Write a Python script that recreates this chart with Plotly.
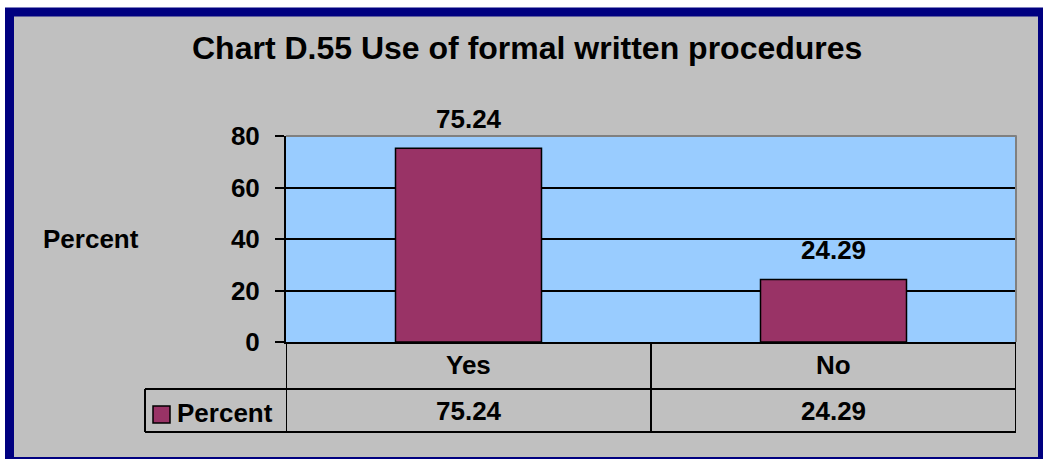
import plotly.graph_objects as go

# ---- data ----
categories = ["Yes", "No"]
percent_values = [75.24, 24.29]
series_name = "Percent"
title_text = "Chart D.55 Use of formal written procedures"
y_title = "Percent"
y_ticks = [0, 20, 40, 60, 80]

# ---- style ----
FONT = "Arial, 'Liberation Sans', sans-serif"
BAR = "#993366"
PLOT_BG = "#99CCFF"
PAPER = "#C0C0C0"
NAVY = "#000080"
FS = 26

W_FIG, H_FIG = 1043, 459
L, R, T, B = 286, 27, 136, 117
PW = W_FIG - L - R
PH = H_FIG - T - B


def px_x(px):
    return (px - L) / PW


def px_y(py):
    return (T + PH - py) / PH


fig = go.Figure()
fig.add_trace(go.Bar(
    x=categories, y=percent_values, name=series_name, width=0.4,
    marker=dict(color=BAR, line=dict(color="black", width=1.5)),
    hoverinfo="x+y",
))

shapes = [
    # outer chart area with navy border
    dict(type="rect", xref="paper", yref="paper", layer="below",
         x0=px_x(9.5), x1=px_x(1042.5), y0=px_y(461.5), y1=px_y(12),
         fillcolor=PAPER, line=dict(color=NAVY, width=9)),
    # plot area background
    dict(type="rect", xref="paper", yref="paper", layer="below",
         x0=0, x1=1, y0=0, y1=1, fillcolor=PLOT_BG, line=dict(width=0)),
    # gray plot border top/right
    dict(type="line", xref="paper", yref="paper", x0=0, x1=1.001, y0=1, y1=1,
         line=dict(color="#808080", width=2)),
    dict(type="line", xref="paper", yref="paper", x0=1, x1=1, y0=0, y1=1,
         line=dict(color="#808080", width=2)),
]

# data table lines
row1 = px_y(389)
row2 = px_y(432)
leg_left = px_x(145)
for yy in (row1, row2):
    shapes.append(dict(type="line", xref="paper", yref="paper",
                       x0=leg_left, x1=1, y0=yy, y1=yy,
                       line=dict(color="black", width=2)))
shapes.append(dict(type="line", xref="paper", yref="paper",
                   x0=leg_left, x1=leg_left, y0=row1, y1=row2,
                   line=dict(color="black", width=2)))
for xv in [i - 0.5 for i in range(len(categories) + 1)]:
    shapes.append(dict(type="line", xref="x", yref="paper",
                       x0=xv, x1=xv, y0=0, y1=row2,
                       line=dict(color="black", width=2)))
# legend key square
shapes.append(dict(type="rect", xref="paper", yref="paper",
                   x0=px_x(153), x1=px_x(170), y0=px_y(423), y1=px_y(406),
                   fillcolor=BAR, line=dict(color="black", width=1.5)))

annotations = [
    dict(text=f"<b>{title_text}</b>", xref="paper", yref="paper",
         x=px_x(527), y=px_y(48), xanchor="center", yanchor="middle",
         showarrow=False, font=dict(family=FONT, size=32, color="black")),
    dict(text=f"<b>{y_title}</b>", xref="paper", yref="paper",
         x=px_x(41), y=0.5, xanchor="left", yanchor="middle",
         showarrow=False, font=dict(family=FONT, size=FS, color="black")),
    dict(text=f"<b>{series_name}</b>", xref="paper", yref="paper",
         x=px_x(175), y=px_y(413), xanchor="left", yanchor="middle",
         showarrow=False, font=dict(family=FONT, size=FS, color="black")),
]
for cat, val in zip(categories, percent_values):
    annotations.append(dict(text=f"<b>{val:.2f}</b>", x=cat, y=val, xref="x", yref="y",
                            xanchor="center", yanchor="bottom", yshift=12,
                            showarrow=False,
                            font=dict(family=FONT, size=FS, color="black")))
    annotations.append(dict(text=f"<b>{cat}</b>", x=cat, y=px_y(365), xref="x", yref="paper",
                            xanchor="center", yanchor="middle", showarrow=False,
                            font=dict(family=FONT, size=FS, color="black")))
    annotations.append(dict(text=f"<b>{val:.2f}</b>", x=cat, y=px_y(411), xref="x", yref="paper",
                            xanchor="center", yanchor="middle", showarrow=False,
                            font=dict(family=FONT, size=FS, color="black")))

fig.update_layout(
    width=W_FIG, height=H_FIG,
    margin=dict(l=L, r=R, t=T, b=B, pad=0),
    paper_bgcolor="white", plot_bgcolor="rgba(0,0,0,0)",
    showlegend=False, bargap=0.6,
    shapes=shapes, annotations=annotations,
    font=dict(family=FONT, color="black"),
)
fig.update_xaxes(range=[-0.5, len(categories) - 0.5], showticklabels=False,
                 showgrid=False, zeroline=False, showline=True,
                 linecolor="black", linewidth=2, ticks="", fixedrange=True)
fig.update_yaxes(range=[0, 80], tickvals=y_ticks,
                 ticktext=[f"<b>{v}</b>" for v in y_ticks],
                 tickfont=dict(family=FONT, size=FS, color="black"),
                 showgrid=True, gridcolor="black", gridwidth=1.5,
                 zeroline=False, showline=True, linecolor="black", linewidth=2,
                 ticks="outside", ticklen=9, tickwidth=2, tickcolor="black",
                 ticklabelstandoff=10, fixedrange=True)

fig.write_html("out.html", config={"displayModeBar": False},
               post_script="document.body.style.margin='0px';document.body.style.padding='0px';")
